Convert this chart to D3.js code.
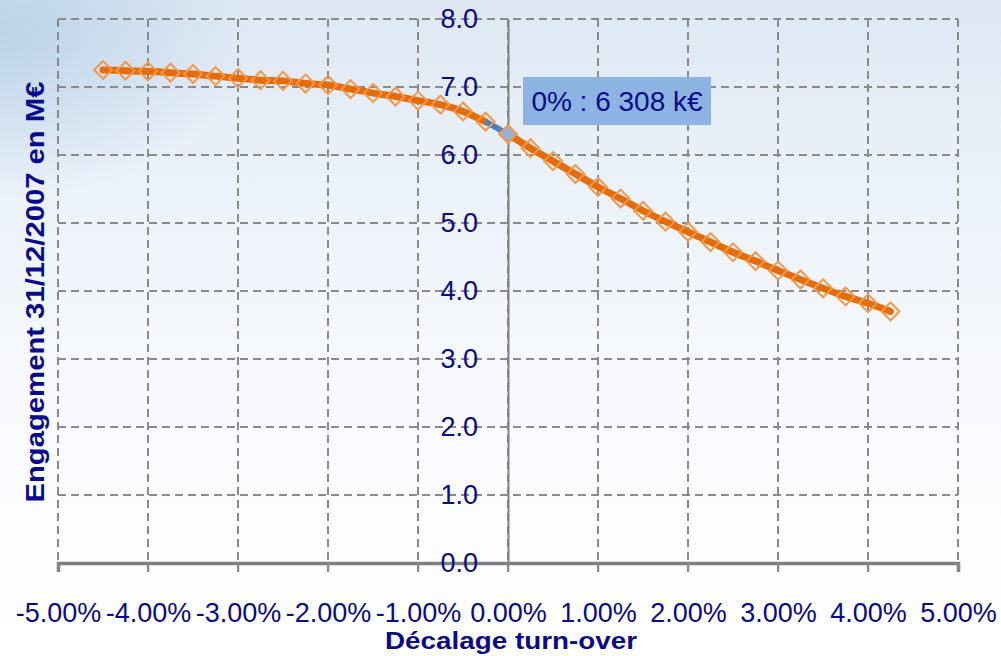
<!DOCTYPE html>
<html>
<head>
<meta charset="utf-8">
<script src="https://cdn.jsdelivr.net/npm/d3@7"></script>
<style>
    body { margin: 0; background: #fff; }
    svg { display: block; font-family: "Liberation Sans", Arial, sans-serif; }
</style>
</head>
<body>
<svg id="chart" width="1001" height="656"></svg>
<script>
    'use strict';

    // turn-over shift (%) and commitment at 31/12/2007 (M€)
    var shifts = [-4.5, -4.25, -4, -3.75, -3.5, -3.25, -3, -2.75, -2.5, -2.25, -2, -1.75, -1.5, -1.25, -1, -0.75, -0.5, -0.25,
        0, 0.25, 0.5, 0.75, 1, 1.25, 1.5, 1.75, 2, 2.25, 2.5, 2.75, 3, 3.25, 3.5, 3.75, 4, 4.25];
    var engagement = [7.25, 7.24, 7.23, 7.21, 7.19, 7.16, 7.13, 7.10, 7.09, 7.05, 7.03, 6.97, 6.91, 6.86, 6.80, 6.74, 6.64, 6.49,
        6.308, 6.10, 5.91, 5.72, 5.53, 5.36, 5.18, 5.02, 4.87, 4.72, 4.57, 4.44, 4.30, 4.17, 4.04, 3.92, 3.82, 3.70];
    var xTicks = [-5, -4, -3, -2, -1, 0, 1, 2, 3, 4, 5];
    var yTicks = [0, 1, 2, 3, 4, 5, 6, 7, 8];
    var highlight = { shift: 0, label: '0% : 6 308 k€' };

    var TEXT_COLOR = '#0a0a8c';
    var GRID_COLOR = '#8a8a8a';
    var LINE_COLOR = '#e46c0a';
    var MARKER_COLOR = '#f79646';

    var svg = d3.select('#chart');
    var x = d3.scaleLinear().domain([-5, 5]).range([58, 958]);
    var y = d3.scaleLinear().domain([0, 8]).range([563, 19]);

    var points = shifts.map(function (s, i) { return { x: s, y: engagement[i] }; });
    var hiIndex = shifts.indexOf(highlight.shift);

    // background
    var defs = svg.append('defs');
    var bg = defs.append('linearGradient').attr('id', 'bg').attr('x1', 0).attr('y1', 0).attr('x2', 0).attr('y2', 1);
    bg.append('stop').attr('offset', '0%').attr('stop-color', '#dde8f3');
    bg.append('stop').attr('offset', '30%').attr('stop-color', '#ecf2f9');
    bg.append('stop').attr('offset', '60%').attr('stop-color', '#f8fafd');
    bg.append('stop').attr('offset', '100%').attr('stop-color', '#ffffff');
    var blob = defs.append('radialGradient').attr('id', 'blob').attr('cx', 0).attr('cy', 0.05).attr('r', 0.25);
    blob.append('stop').attr('offset', '0%').attr('stop-color', '#b3cde6').attr('stop-opacity', 0.8);
    blob.append('stop').attr('offset', '100%').attr('stop-color', '#b3cde6').attr('stop-opacity', 0);

    svg.append('rect').attr('width', 1001).attr('height', 656).attr('fill', 'url(#bg)');
    svg.append('rect').attr('width', 1001).attr('height', 656).attr('fill', 'url(#blob)');

    // grid
    var grid = svg.append('g').attr('stroke', GRID_COLOR).attr('stroke-width', 2).attr('stroke-dasharray', '8,5');
    grid.selectAll('line.v').data(xTicks).enter().append('line')
        .attr('class', 'v')
        .attr('x1', function (d) { return x(d); })
        .attr('x2', function (d) { return x(d); })
        .attr('y1', y(8))
        .attr('y2', y(0) + 9);
    grid.selectAll('line.h').data(yTicks.slice(1)).enter().append('line')
        .attr('class', 'h')
        .attr('x1', x(-5))
        .attr('x2', x(5))
        .attr('y1', function (d) { return y(d); })
        .attr('y2', function (d) { return y(d); });

    // y axis at x = 0
    var yAxis = svg.append('g')
        .attr('transform', 'translate(' + x(0) + ',0)')
        .call(d3.axisLeft(y).tickValues(yTicks).tickSize(0).tickPadding(30).tickFormat(d3.format('.1f')));
    yAxis.select('.domain').attr('stroke', '#808080').attr('stroke-width', 2);
    yAxis.selectAll('text')
        .attr('fill', TEXT_COLOR)
        .attr('font-size', 27)
        .attr('font-family', '"Liberation Sans", Arial, sans-serif');

    // x axis
    var xAxis = svg.append('g')
        .attr('transform', 'translate(0,' + y(0) + ')')
        .call(d3.axisBottom(x).tickValues(xTicks).tickSize(9).tickPadding(31)
            .tickFormat(function (d) { return d.toFixed(2) + '%'; }));
    xAxis.select('.domain').attr('stroke', '#808080').attr('stroke-width', 3.5);
    xAxis.selectAll('.tick line').attr('stroke', GRID_COLOR).attr('stroke-width', 1.5);
    xAxis.selectAll('text')
        .attr('fill', TEXT_COLOR)
        .attr('font-size', 27)
        .attr('font-family', '"Liberation Sans", Arial, sans-serif');
    // y label 0.0 sits over the x axis
    yAxis.raise();

    // line
    var line = d3.line()
        .x(function (d) { return x(d.x); })
        .y(function (d) { return y(d.y); })
        .curve(d3.curveMonotoneX);

    svg.append('path')
        .datum(points.slice(0, hiIndex))
        .attr('fill', 'none')
        .attr('stroke', LINE_COLOR)
        .attr('stroke-width', 7)
        .attr('stroke-linecap', 'round')
        .attr('d', line);
    svg.append('path')
        .datum(points.slice(hiIndex - 1, hiIndex + 1))
        .attr('fill', 'none')
        .attr('stroke', '#4f81bd')
        .attr('stroke-width', 6)
        .attr('d', line);
    svg.append('path')
        .datum(points.slice(hiIndex))
        .attr('fill', 'none')
        .attr('stroke', LINE_COLOR)
        .attr('stroke-width', 7)
        .attr('stroke-linecap', 'round')
        .attr('d', line);

    // diamond markers
    svg.append('g').selectAll('path').data(points).enter().append('path')
        .attr('transform', function (d) { return 'translate(' + x(d.x) + ',' + y(d.y) + ') rotate(45)'; })
        .attr('d', d3.symbol().type(d3.symbolSquare).size(160))
        .attr('fill', function (d, i) { return i === hiIndex ? '#95b3d7' : 'none'; })
        .attr('stroke', MARKER_COLOR)
        .attr('stroke-width', 2);

    // data label
    var hx = x(points[hiIndex].x), hy = y(points[hiIndex].y);
    svg.append('rect')
        .attr('x', hx + 15)
        .attr('y', hy - 57)
        .attr('width', 188)
        .attr('height', 48)
        .attr('fill', '#8db3e2');
    svg.append('text')
        .attr('x', hx + 15 + 94)
        .attr('y', hy - 23)
        .attr('text-anchor', 'middle')
        .attr('font-size', 28)
        .attr('fill', TEXT_COLOR)
        .text(highlight.label);

    // axis titles
    svg.append('text')
        .attr('transform', 'translate(44,292) rotate(-90)')
        .attr('text-anchor', 'middle')
        .attr('font-size', 26)
        .attr('font-weight', 'bold')
        .attr('fill', TEXT_COLOR)
        .attr('textLength', 421)
        .attr('lengthAdjust', 'spacingAndGlyphs')
        .text('Engagement 31/12/2007 en M€');
    svg.append('text')
        .attr('x', 511)
        .attr('y', 649)
        .attr('text-anchor', 'middle')
        .attr('font-size', 23)
        .attr('font-weight', 'bold')
        .attr('fill', TEXT_COLOR)
        .attr('textLength', 252)
        .attr('lengthAdjust', 'spacingAndGlyphs')
        .text('Décalage turn-over');
</script>
</body>
</html>
